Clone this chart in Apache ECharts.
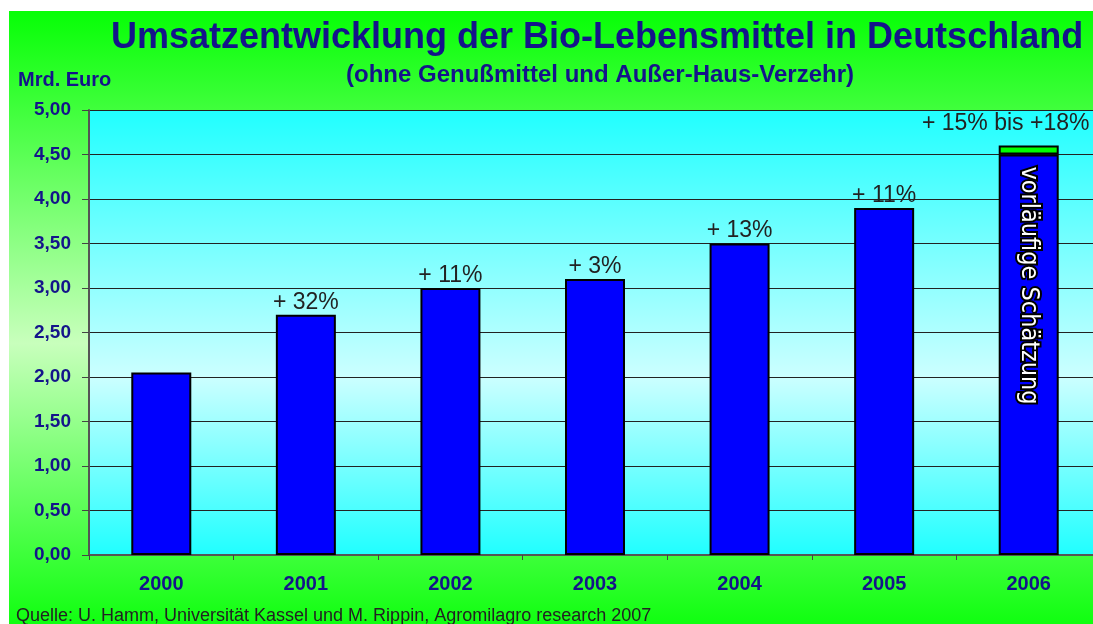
<!DOCTYPE html>
<html>
<head>
<meta charset="utf-8">
<script src="https://cdn.jsdelivr.net/npm/echarts@6/dist/echarts.min.js"></script>
<style>html,body{margin:0;padding:0;background:#fff;overflow:hidden;width:1093px;height:624px;}#c{width:1101px;height:624px;}</style>
</head>
<body>
<div id="c"></div>
<script>
const categories = ['2000', '2001', '2002', '2003', '2004', '2005', '2006'];
const umsatz = [2.05, 2.70, 3.00, 3.10, 3.50, 3.90, 4.50];
const schaetzungZusatz = [null, null, null, null, null, null, 0.10];
const wachstum = ['', '+ 32%', '+ 11%', '+ 3%', '+ 13%', '+ 11%', '+ 15% bis +18%'];
const yTicks = [0, 0.5, 1, 1.5, 2, 2.5, 3, 3.5, 4, 4.5, 5];
const schaetzungText = 'vorläufige Schätzung';

const navy = '#14148a';
const FONT = 'Liberation Sans, Arial, sans-serif';
const chart = echarts.init(document.getElementById('c'), null, {renderer: 'canvas'});

const growthLabel = {
  show: true, position: 'top', distance: 1,
  color: '#222', fontSize: 23, fontFamily: FONT
};

const dataA = umsatz.map((v, i) => {
  if (i === categories.length - 1) {
    return {
      value: v,
      label: {
        show: true, position: 'insideTop', rotate: -90, distance: 12,
        align: 'left', verticalAlign: 'middle',
        formatter: schaetzungText,
        color: '#fff', textBorderColor: '#000', textBorderWidth: 4,
        fontSize: 25, fontFamily: 'Liberation Sans Narrow, DejaVu Sans Condensed, Arial Narrow, sans-serif'
      }
    };
  }
  return {
    value: v,
    label: wachstum[i] ? Object.assign({}, growthLabel, {formatter: wachstum[i]}) : {show: false}
  };
});

const dataB = schaetzungZusatz.map((v, i) => {
  if (v == null) return null;
  return {
    value: v,
    label: Object.assign({}, growthLabel, {formatter: wachstum[i], distance: 10, offset: [-23, 0]})
  };
});

const option = {
  backgroundColor: {
    type: 'linear', x: 0, y: 0, x2: 0, y2: 1,
    colorStops: [
      {offset: 0, color: '#00ff00'},
      {offset: 0.55, color: '#c8ffbc'},
      {offset: 1, color: '#10ff10'}
    ]
  },
  animation: false,
  graphic: [
    {type: 'rect', shape: {x: 0, y: 0, width: 1101, height: 11}, style: {fill: '#fff'}, z: 100},
    {type: 'rect', shape: {x: 0, y: 0, width: 9, height: 624}, style: {fill: '#fff'}, z: 100}
  ],
  title: [
    {text: 'Umsatzentwicklung der Bio-Lebensmittel in Deutschland', left: 106, top: 15,
     textStyle: {color: navy, fontSize: 36, fontWeight: 'bold', fontFamily: FONT}},
    {text: '(ohne Genußmittel und Außer-Haus-Verzehr)', left: 341, top: 58,
     textStyle: {color: navy, fontSize: 24, fontWeight: 'bold', fontFamily: FONT}},
    {text: 'Mrd. Euro', left: 13, top: 65,
     textStyle: {color: navy, fontSize: 20, fontWeight: 'bold', fontFamily: FONT}},
    {text: 'Quelle: U. Hamm, Universität Kassel und M. Rippin, Agromilagro research 2007', left: 11, top: 602,
     textStyle: {color: '#222', fontSize: 18, fontWeight: 'normal', fontFamily: FONT}}
  ],
  grid: {
    left: 89, top: 110, bottom: 69, right: 0,
    show: true, borderWidth: 0,
    backgroundColor: {
      type: 'linear', x: 0, y: 0, x2: 0, y2: 1,
      colorStops: [
        {offset: 0, color: '#20ffff'},
        {offset: 0.6, color: '#ccffff'},
        {offset: 1, color: '#20ffff'}
      ]
    }
  },
  xAxis: {
    type: 'category', data: categories,
    axisLine: {lineStyle: {color: '#555', width: 2}},
    axisTick: {show: true, length: 5, lineStyle: {color: '#444'}},
    axisLabel: {color: navy, fontSize: 20, fontWeight: 'bold', margin: 19, fontFamily: FONT}
  },
  yAxis: {
    type: 'value', min: 0, max: 5, interval: 0.5,
    axisLine: {show: true, lineStyle: {color: '#555', width: 2}},
    axisTick: {show: true, length: 7, lineStyle: {color: '#444'}},
    splitLine: {lineStyle: {color: '#222', width: 1}},
    axisLabel: {
      color: navy, fontSize: 19, fontWeight: 'bold', margin: 18,
      fontFamily: FONT,
      formatter: v => (yTicks.includes(v) ? v.toFixed(2).replace('.', ',') : '')
    }
  },
  series: [
    {type: 'bar', stack: 'u', data: dataA, barWidth: 60,
     itemStyle: {color: '#0000ff', borderColor: '#000', borderWidth: 2}},
    {type: 'bar', stack: 'u', data: dataB, barWidth: 60,
     itemStyle: {color: '#00ff00', borderColor: '#000', borderWidth: 2}}
  ]
};
chart.setOption(option);
</script>
</body>
</html>
